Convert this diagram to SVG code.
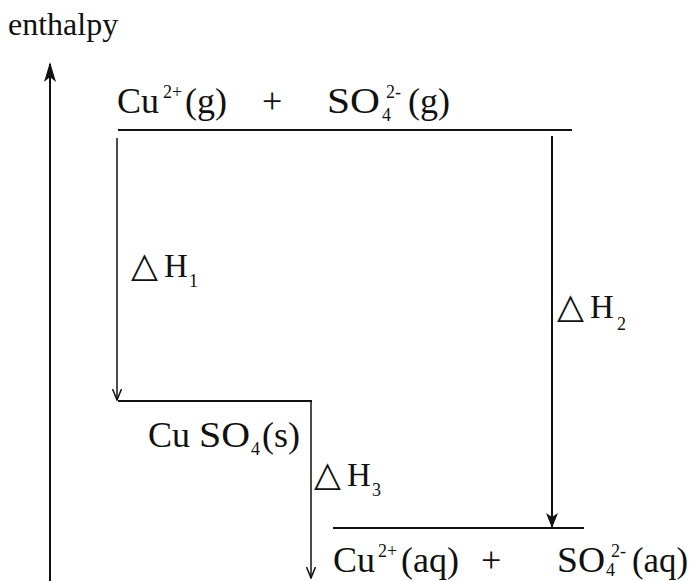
<svg xmlns="http://www.w3.org/2000/svg" width="690" height="581" viewBox="0 0 690 581">
<style>
text{font-family:"Liberation Serif","Times New Roman",serif;fill:#111}
.t{font-size:36px}
.h{font-size:33px}
.s{font-size:18px}
.d{font-family:"DejaVu Sans",sans-serif;font-size:35px}
.ln{stroke:#111;stroke-width:2;fill:none}
.thin{stroke:#111;stroke-width:1.5;fill:none}
</style>
<defs>
<marker id="fill" markerWidth="16" markerHeight="12" refX="15" refY="6" orient="auto" markerUnits="userSpaceOnUse" viewBox="0 0 16 12">
<path d="M0,0 L15,6 L0,12 L4,6 Z" fill="#111"/>
</marker>
<marker id="open" markerWidth="12" markerHeight="10" refX="11" refY="5" orient="auto" markerUnits="userSpaceOnUse" viewBox="0 0 12 10">
<path d="M0,0.5 L11,5 L0,9.5" fill="none" stroke="#111" stroke-width="1.5"/>
</marker>
</defs>
<g id="axis">
<line class="ln" x1="50" y1="581" x2="50" y2="64"/>
<path d="M44,82 L50,62 L56,82 L50,77 Z" fill="#111"/>
<text x="8" y="35" style="font-size:32px">enthalpy</text>
</g>
<g id="connectors">
<line class="thin" x1="117" y1="138" x2="117" y2="400" marker-end="url(#open)"/>
<line class="ln" x1="552" y1="136" x2="552" y2="528" marker-end="url(#fill)"/>
<line class="thin" x1="311" y1="402" x2="311" y2="578" marker-end="url(#open)"/>
</g>
<g id="level-gas">
<line class="ln" x1="118" y1="130" x2="572" y2="130"/>
<text class="t" y="113"><tspan x="117">Cu</tspan><tspan class="s" x="163" y="98">2+</tspan><tspan x="185" y="113">(g)</tspan><tspan x="262">+</tspan><tspan x="327" textLength="53" lengthAdjust="spacingAndGlyphs">SO</tspan><tspan class="s" x="382" y="121">4</tspan><tspan class="s" x="386" y="98">2-</tspan><tspan x="408" y="113">(g)</tspan></text>
</g>
<g id="level-solid">
<line class="ln" x1="118" y1="401" x2="312" y2="401"/>
<text class="t" y="447"><tspan x="148">Cu</tspan><tspan x="199" textLength="51" lengthAdjust="spacingAndGlyphs">SO</tspan><tspan class="s" x="251" y="455">4</tspan><tspan x="262" y="447">(s)</tspan></text>
</g>
<g id="level-aq">
<line class="ln" x1="333" y1="528" x2="584" y2="528"/>
<text class="t" y="572"><tspan x="333">Cu</tspan><tspan class="s" x="378" y="557">2+</tspan><tspan x="401" y="572">(aq)</tspan><tspan x="481">+</tspan><tspan x="557" textLength="48" lengthAdjust="spacingAndGlyphs">SO</tspan><tspan class="s" x="606" y="576">4</tspan><tspan class="s" x="611" y="557">2-</tspan><tspan x="632" y="572" textLength="56" lengthAdjust="spacingAndGlyphs">(aq)</tspan></text>
</g>
<g id="dH1"><text class="h" y="277"><tspan class="d" x="131">△</tspan><tspan x="164">H</tspan><tspan class="s" x="189" y="287">1</tspan></text></g>
<g id="dH2"><text class="h" y="318"><tspan class="d" x="557">△</tspan><tspan x="590">H</tspan><tspan class="s" x="617" y="330">2</tspan></text></g>
<g id="dH3"><text class="h" y="486"><tspan class="d" x="314">△</tspan><tspan x="347">H</tspan><tspan class="s" x="372" y="496">3</tspan></text></g>
</svg>
